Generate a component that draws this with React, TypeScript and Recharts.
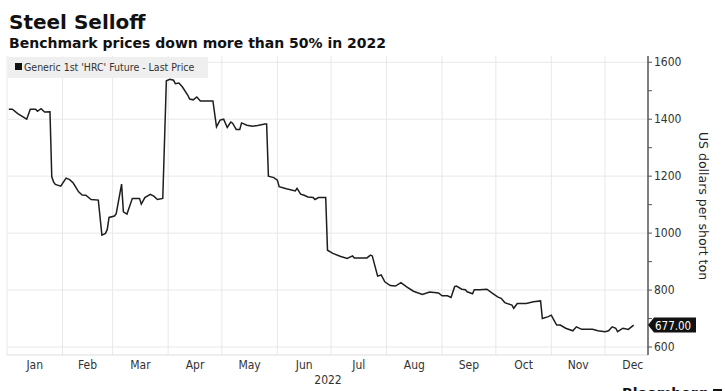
import React from 'react';
import { LineChart, Line, XAxis, YAxis, CartesianGrid, ReferenceDot } from 'recharts';

// day of year (Jan 1 = 0) and HRC price
const days = [
    1, 3, 6, 11, 13, 16, 17, 19, 21, 24, 25, 26, 27, 30, 33, 35, 37, 40, 42, 44, 47, 51,
    53, 55, 56, 57, 60, 61, 64, 65, 67, 70, 74, 75, 77, 80, 82, 84, 87,
    89, 91, 93, 94, 96, 98, 101, 102, 104, 106, 108, 115,
    117, 119, 121, 123, 125, 126, 128, 130, 131, 134, 137, 140, 144, 145,
    146, 149, 151, 152, 156, 161, 162, 164, 166, 168, 171, 172, 174, 178,
    179, 182, 186, 190, 193, 194, 201, 203, 204,
    207, 209, 211, 214, 217, 220, 223, 227, 232, 236, 241, 243, 246, 248,
    250, 251, 254, 256, 257, 260, 261, 264, 268, 271, 274, 276, 278, 282, 283, 285, 290, 294, 298,
    299, 302, 304, 305, 307, 309, 312, 316, 318, 321, 327, 330, 334, 336, 338, 340, 341, 344, 347, 350,
];
const prices = [
    1435, 1435, 1420, 1400, 1435, 1435, 1428, 1437, 1425, 1426, 1198, 1180, 1171, 1165, 1193, 1188, 1176, 1145, 1134, 1133, 1118, 1116,
    993, 999, 1013, 1055, 1060, 1068, 1172, 1075, 1067, 1122, 1122, 1102, 1125, 1136, 1130, 1118, 1122,
    1535, 1540, 1537, 1525, 1527, 1513, 1484, 1471, 1468, 1478, 1464, 1464,
    1373, 1397, 1400, 1371, 1390, 1386, 1364, 1364, 1387, 1379, 1375, 1378, 1383, 1383,
    1200, 1195, 1186, 1163, 1156, 1148, 1157, 1137, 1133, 1127, 1125, 1118, 1125, 1125,
    940, 929, 919, 911, 920, 913, 913, 923, 920,
    849, 853, 829, 816, 814, 826, 812, 796, 785, 793, 790, 780, 780, 774,
    812, 814, 803, 801, 794, 787, 801, 801, 803, 789, 776, 771, 756, 747, 736, 753, 753, 759, 762,
    700, 706, 712, 700, 677, 677, 666, 657, 671, 662, 662, 657, 654, 657, 671, 666, 654, 666, 662, 677,
];

const months = ['Jan', 'Feb', 'Mar', 'Apr', 'May', 'Jun', 'Jul', 'Aug', 'Sep', 'Oct', 'Nov', 'Dec'];
const monthStarts = [0, 31, 59, 90, 120, 151, 181, 212, 243, 273, 304, 334];
const monthLengths = [31, 28, 31, 30, 31, 30, 31, 31, 30, 31, 30, 31];
const yTicks = [600, 700, 800, 900, 1000, 1100, 1200, 1300, 1400, 1500, 1600];
const yGrid = [600, 800, 1000, 1200, 1400, 1600];

const X_MAX = 358;
const PLOT_W = 641;
const PX_PER_DAY = PLOT_W / X_MAX;

const data = days.map((d, i) => ({ day: d, price: prices[i] }));
const last = data[data.length - 1];

const condensed = '"DejaVu Sans Condensed", "DejaVu Sans", sans-serif';

if (typeof document !== 'undefined') document.body.style.margin = '0';

function MonthTick(props: any) {
    const { x, index } = props;
    const mid = x + (monthLengths[index] * PX_PER_DAY) / 2;
    return (
        <text x={mid} y={369} textAnchor="middle" fontSize={12} fill="#333" fontFamily={condensed}>
            {months[index]}
        </text>
    );
}

function PriceTick(props: any) {
    const { x, y, payload } = props;
    const major = payload.value % 200 === 0;
    return (
        <g>
            <line x1={x} y1={y} x2={x + 4} y2={y} stroke="#555" strokeWidth={1} />
            {major && (
                <text x={x + 6} y={y + 4} fontSize={12} fill="#333" fontFamily={condensed}>
                    {payload.value}
                </text>
            )}
        </g>
    );
}

function LastTag(props: any) {
    const { cx, cy } = props;
    const w = 48;
    const h = 15;
    const pts = `${cx},${cy} ${cx + 6},${cy - h / 2} ${cx + w},${cy - h / 2} ${cx + w},${cy + h / 2} ${cx + 6},${cy + h / 2}`;
    return (
        <g>
            <polygon points={pts} fill="#111" />
            <text x={cx + 7} y={cy + 4.5} fontSize={11.5} fill="#fff" fontFamily={condensed}>
                {last.price.toFixed(2)}
            </text>
        </g>
    );
}

export default function App() {
    return (
        <div style={{ position: 'relative', width: 725, height: 391, overflow: 'hidden', background: '#fff' }}>
            <div style={{ position: 'absolute', left: 9, top: 12, fontFamily: '"DejaVu Sans", sans-serif', fontWeight: 700, fontSize: 20, lineHeight: 1, color: '#111' }}>
                Steel Selloff
            </div>
            <div style={{ position: 'absolute', left: 9, top: 36, fontFamily: '"DejaVu Sans", sans-serif', fontWeight: 700, fontSize: 14, lineHeight: 1, color: '#111' }}>
                Benchmark prices down more than 50% in 2022
            </div>

            <LineChart width={725} height={391} data={data} margin={{ top: 56, right: 7, bottom: 0, left: 7 }}>
                <CartesianGrid stroke="#e8e8e8" strokeWidth={1} verticalValues={monthStarts} horizontalValues={yGrid} />
                <XAxis
                    dataKey="day"
                    type="number"
                    domain={[0, X_MAX]}
                    ticks={monthStarts}
                    interval={0}
                    tickLine={false}
                    axisLine={{ stroke: '#ddd' }}
                    tick={<MonthTick />}
                    height={36}
                />
                <YAxis
                    orientation="right"
                    type="number"
                    domain={[572, 1622]}
                    ticks={yTicks}
                    interval={0}
                    width={70}
                    tickLine={false}
                    tickSize={0}
                    tickMargin={0}
                    axisLine={{ stroke: '#555', strokeWidth: 1.5 }}
                    tick={<PriceTick />}
                />
                <Line
                    type="linear"
                    dataKey="price"
                    stroke="#1e1e1e"
                    strokeWidth={1.5}
                    dot={false}
                    isAnimationActive={false}
                />
                <ReferenceDot x={X_MAX} y={last.price} ifOverflow="visible" shape={<LastTag />} />
            </LineChart>

            <div style={{ position: 'absolute', left: 8, top: 57, width: 200, height: 21, background: '#efefef' }} />
            <div style={{ position: 'absolute', left: 15, top: 63, width: 7, height: 7, background: '#111' }} />
            <div style={{ position: 'absolute', left: 24, top: 60, fontFamily: condensed, fontSize: 10.5, lineHeight: '14px', color: '#333', whiteSpace: 'nowrap' }}>
                Generic 1st 'HRC' Future - Last Price
            </div>

            <div style={{ position: 'absolute', left: 298, top: 374, width: 60, textAlign: 'center', fontFamily: condensed, fontSize: 12, lineHeight: 1, color: '#333' }}>
                2022
            </div>

            <div
                style={{
                    position: 'absolute',
                    left: 703,
                    top: 206,
                    transform: 'translate(-50%, -50%) rotate(90deg)',
                    fontFamily: '"DejaVu Sans", sans-serif',
                    fontSize: 12.5,
                    color: '#222',
                    whiteSpace: 'nowrap',
                }}
            >
                US dollars per short ton
            </div>

            <div style={{ position: 'absolute', left: 622, top: 386, fontFamily: '"DejaVu Sans", sans-serif', fontWeight: 700, fontSize: 14, lineHeight: 1, color: '#111', whiteSpace: 'nowrap' }}>
                Bloomberg <span style={{ display: 'inline-block', width: 9, height: 9, background: '#111' }} />
            </div>
        </div>
    );
}
